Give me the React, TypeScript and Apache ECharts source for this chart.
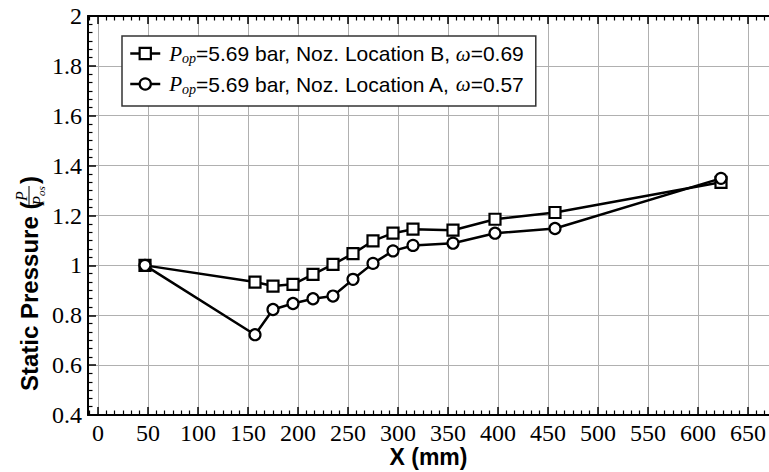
import React, { useEffect, useRef } from 'react';
import * as echarts from 'echarts';

// Data
const xPositions = [47, 157, 175, 195, 215, 235, 255, 275, 295, 315, 355, 397, 457, 623];
const pressureLocB = [1.0, 0.933, 0.917, 0.924, 0.964, 1.004, 1.047, 1.098, 1.129, 1.145, 1.141, 1.185, 1.212, 1.333];
const pressureLocA = [1.0, 0.722, 0.823, 0.847, 0.866, 0.877, 0.944, 1.008, 1.058, 1.08, 1.089, 1.129, 1.148, 1.349];

const xTickValues = [0, 50, 100, 150, 200, 250, 300, 350, 400, 450, 500, 550, 600, 650];
const seriesNames = ['Location B', 'Location A'];
const legendTexts: Record<string, string> = {
  'Location B': '{i|P}{s|op}{t|=5.69 bar, Noz. Location B, }{w|ω}{t|=0.69}',
  'Location A': '{i|P}{s|op}{t|=5.69 bar, Noz. Location A, }{w|ω}{t|=0.57}',
};

const SERIF = 'Liberation Serif';
const X_MIN = -10;
const X_MAX = 671;

function minorTicks(): number[] {
  const out: number[] = [];
  const step = 50 / 6;
  for (let k = -1; k <= 80; k++) {
    if (k % 6 === 0) continue;
    const v = k * step;
    if (v > X_MIN && v < X_MAX) out.push(v);
  }
  return out;
}

export default function App() {
  const ref = useRef<HTMLDivElement>(null);

  useEffect(() => {
    const chart = echarts.init(ref.current as HTMLDivElement, null, { renderer: 'svg' });
    const minors = minorTicks();
    const baseX = {
      type: 'value' as const,
      min: X_MIN,
      max: X_MAX,
      splitLine: { show: false },
      axisLabel: { show: false },
    };
    const tickLabelRich = {
      n: { fontFamily: SERIF, fontSize: 24, color: '#000', fontWeight: 'normal' },
    };

    const option: any = {
      animation: false,
      backgroundColor: '#fff',
      grid: { left: 88, right: 0, top: 16, bottom: 57, containLabel: false, outerBoundsMode: 'none' },
      legend: {
        data: seriesNames,
        orient: 'vertical',
        left: 122,
        top: 36,
        padding: [7, 12, 10, 7],
        itemGap: 8,
        itemWidth: 30,
        itemHeight: 14,
        backgroundColor: '#fff',
        borderColor: '#333',
        borderWidth: 1.5,
        borderRadius: 0,
        selectedMode: false,
        itemStyle: { color: '#fff', borderColor: '#000', borderWidth: 2.2 },
        lineStyle: { color: '#000', width: 2.5 },
        formatter: (name: string) => legendTexts[name],
        textStyle: {
          color: '#000',
          padding: [0, 0, 0, 4],
          rich: {
            i: { fontFamily: SERIF, fontStyle: 'italic', fontSize: 21, lineHeight: 24, color: '#000' },
            s: { fontFamily: SERIF, fontStyle: 'italic', fontSize: 14, lineHeight: 10, verticalAlign: 'bottom', color: '#000' },
            t: { fontFamily: 'Liberation Sans', fontSize: 21, lineHeight: 24, color: '#000' },
            w: { fontFamily: SERIF, fontStyle: 'italic', fontSize: 21, lineHeight: 24, color: '#000' },
          },
        },
      },
      xAxis: [
        {
          ...baseX,
          position: 'bottom',
          axisLine: { show: true, onZero: false, lineStyle: { color: '#000', width: 2 } },
          axisTick: { show: true, inside: true, length: 8, customValues: xTickValues, lineStyle: { color: '#000', width: 1.5 } },
          axisLabel: {
            show: true,
            customValues: xTickValues,
            margin: 6,
            fontFamily: SERIF,
            fontSize: 24,
            color: '#000',
            formatter: (v: number) => '{n|' + v + '}',
            rich: tickLabelRich,
          },
          splitLine: { show: true, lineStyle: { color: '#b0b0b0', width: 1 } },
          name: 'X (mm)',
          nameLocation: 'middle',
          nameGap: 30,
          nameMoveOverlap: false,
          nameTextStyle: { fontFamily: 'Liberation Sans', fontWeight: 'bold', fontSize: 23, color: '#000', lineHeight: 24 },
        },
        {
          ...baseX,
          position: 'bottom',
          axisLine: { show: false, onZero: false },
          axisTick: { show: true, inside: true, length: 4.5, customValues: minors, lineStyle: { color: '#000', width: 1.2 } },
        },
        {
          ...baseX,
          position: 'top',
          axisLine: { show: true, onZero: false, lineStyle: { color: '#000', width: 2 } },
          axisTick: { show: true, inside: true, length: 8, customValues: xTickValues, lineStyle: { color: '#000', width: 1.5 } },
        },
        {
          ...baseX,
          position: 'top',
          axisLine: { show: false, onZero: false },
          axisTick: { show: true, inside: true, length: 4.5, customValues: minors, lineStyle: { color: '#000', width: 1.2 } },
        },
      ],
      yAxis: {
        type: 'value',
        min: 0.4,
        max: 2,
        interval: 0.2,
        position: 'left',
        axisLine: { show: true, onZero: false, lineStyle: { color: '#000', width: 2 } },
        axisTick: { show: true, inside: true, length: 8, lineStyle: { color: '#000', width: 1.5 } },
        minorTick: { show: true, splitNumber: 6, length: 4.5, lineStyle: { color: '#000', width: 1.2 } },
        axisLabel: {
          margin: 6,
          fontFamily: SERIF,
          fontSize: 24,
          color: '#000',
          formatter: (v: number) => '{n|' + String(Math.round(v * 10) / 10) + '}',
          rich: tickLabelRich,
        },
        splitLine: { show: true, lineStyle: { color: '#b0b0b0', width: 1 } },
      },
      series: [
        {
          name: seriesNames[0],
          type: 'line',
          xAxisIndex: 0,
          data: xPositions.map((x, i) => [x, pressureLocB[i]]),
          symbol: 'rect',
          symbolSize: 11,
          lineStyle: { color: '#000', width: 2.5 },
          itemStyle: { color: '#fff', borderColor: '#000', borderWidth: 2.2 },
          z: 3,
        },
        {
          name: seriesNames[1],
          type: 'line',
          xAxisIndex: 0,
          data: xPositions.map((x, i) => [x, pressureLocA[i]]),
          symbol: 'circle',
          symbolSize: 11,
          lineStyle: { color: '#000', width: 2.5 },
          itemStyle: { color: '#fff', borderColor: '#000', borderWidth: 2.2 },
          z: 4,
        },
      ],
      graphic: [
        {
          type: 'group',
          x: 29,
          y: 391,
          rotation: Math.PI / 2,
          children: [
            {
              type: 'text',
              x: 0,
              y: 0,
              style: {
                text: 'Static Pressure (',
                fontFamily: 'Liberation Sans',
                fontWeight: 'bold',
                fontSize: 24,
                fill: '#000',
                align: 'left',
                textAlign: 'left',
                verticalAlign: 'middle',
                textVerticalAlign: 'middle',
              },
            },
            {
              type: 'text',
              x: 195,
              y: -8,
              style: {
                text: 'P',
                fontFamily: SERIF,
                fontStyle: 'italic',
                fontSize: 16,
                fill: '#000',
                align: 'center',
                textAlign: 'center',
                verticalAlign: 'middle',
                textVerticalAlign: 'middle',
              },
            },
            {
              type: 'line',
              shape: { x1: 185, y1: 0, x2: 205, y2: 0 },
              style: { stroke: '#000', lineWidth: 1 },
            },
            {
              type: 'text',
              x: 195,
              y: 9,
              style: {
                text: '{p|P}{s|os}',
                fill: '#000',
                align: 'center',
                textAlign: 'center',
                verticalAlign: 'middle',
                textVerticalAlign: 'middle',
                rich: {
                  p: { fontFamily: SERIF, fontStyle: 'italic', fontSize: 16, lineHeight: 16, fill: '#000' },
                  s: { fontFamily: SERIF, fontStyle: 'italic', fontSize: 11, lineHeight: 8, verticalAlign: 'bottom', fill: '#000' },
                },
              },
            },
            {
              type: 'text',
              x: 207,
              y: 0,
              style: {
                text: ')',
                fontFamily: 'Liberation Sans',
                fontWeight: 'bold',
                fontSize: 24,
                fill: '#000',
                align: 'left',
                textAlign: 'left',
                verticalAlign: 'middle',
                textVerticalAlign: 'middle',
              },
            },
          ],
        },
      ],
    };

    chart.setOption(option);
    return () => chart.dispose();
  }, []);

  return <div ref={ref} style={{ position: 'absolute', left: 0, top: 0, width: 769, height: 472 }} />;
}
